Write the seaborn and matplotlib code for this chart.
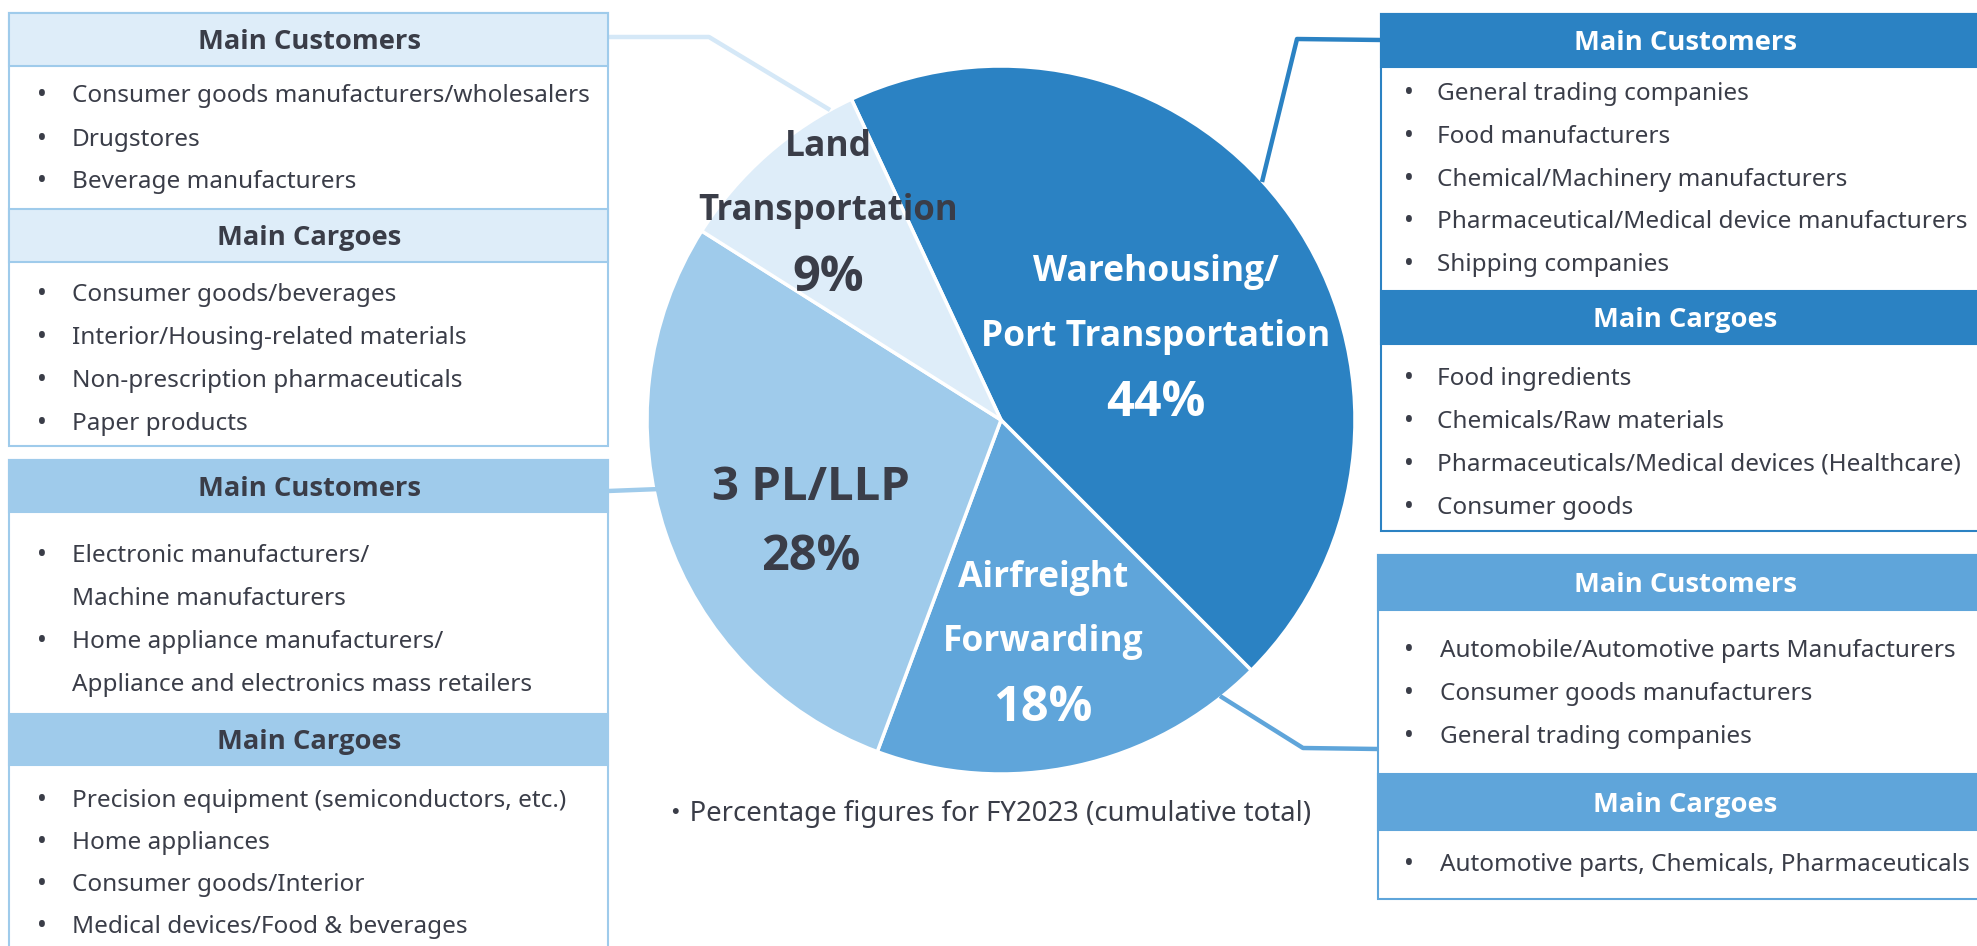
import matplotlib
matplotlib.use("Agg")
import matplotlib.pyplot as plt
from matplotlib import font_manager as fm
from matplotlib.patches import Rectangle
import seaborn as sns

# pie data
SEGMENTS = ["Warehousing/\nPort Transportation", "Airfreight\nForwarding", "3 PL/LLP", "Land\nTransportation"]
SHARES = [44, 18, 28, 9]
SEG_COLORS = ["#2B82C3", "#5FA5DA", "#9FCBEB", "#DEEDF9"]
LINE_COLORS = ["#2B82C3", "#5FA5DA", "#9FCBEB", "#D5E8F7"]

# side box texts
LAND_CUSTOMERS = ["Consumer goods manufacturers/wholesalers", "Drugstores", "Beverage manufacturers"]
LAND_CARGOES = ["Consumer goods/beverages", "Interior/Housing-related materials",
                "Non-prescription pharmaceuticals", "Paper products"]
TPL_CUSTOMERS = ["Electronic manufacturers/", "Machine manufacturers",
                 "Home appliance manufacturers/", "Appliance and electronics mass retailers"]
TPL_BULLETS = [True, False, True, False]
TPL_CARGOES = ["Precision equipment (semiconductors, etc.)", "Home appliances",
               "Consumer goods/Interior", "Medical devices/Food & beverages"]
WH_CUSTOMERS = ["General trading companies", "Food manufacturers", "Chemical/Machinery manufacturers",
                "Pharmaceutical/Medical device manufacturers", "Shipping companies"]
WH_CARGOES = ["Food ingredients", "Chemicals/Raw materials",
              "Pharmaceuticals/Medical devices (Healthcare)", "Consumer goods"]
AIR_CUSTOMERS = ["Automobile/Automotive parts Manufacturers", "Consumer goods manufacturers",
                 "General trading companies"]
AIR_CARGOES = ["Automotive parts, Chemicals, Pharmaceuticals"]

NOTE = "・Percentage figures for FY2023 (cumulative total)"

sns.set_theme(style="white")
plt.rcParams["font.family"] = ["Noto Sans", "Noto Sans CJK JP", "DejaVu Sans"]


def has_bold(name):
    for f in fm.fontManager.ttflist:
        w = f.weight
        if isinstance(w, str):
            w = fm.weight_dict.get(w, 400)
        if f.name == name and w >= 700:
            return True
    return False


BOLD_FAMILY = next(n for n in ["Noto Sans", "Open Sans", "Lato", "Roboto", "Liberation Sans", "DejaVu Sans"]
                   if has_bold(n))

DARK = "#3A3D48"
W, H = 1977, 946
DY = 2.5  # baseline nudge for va="center" text

fig = plt.figure(figsize=(W / 100, H / 100), dpi=100)
fig.patch.set_facecolor("white")

# pie axes
cx, cy, r = 1001, 420, 354
pax = fig.add_axes([(cx - r) / W, (H - cy - r) / H, 2 * r / W, 2 * r / H])
pax.pie(SHARES, colors=SEG_COLORS, startangle=115, counterclock=False,
        wedgeprops=dict(edgecolor="white", linewidth=2.5))
pax.set_xlim(-1, 1)
pax.set_ylim(-1, 1)
pax.axis("off")
pax.set_zorder(0)

# overlay in pixel coordinates, drawn above the pie
ov = fig.add_axes([0, 0, 1, 1])
ov.set_xlim(0, W)
ov.set_ylim(H, 0)
ov.axis("off")
ov.set_zorder(1)

# connector lines
connectors = [
    ([1262, 1297, 1381], [182, 39, 40]),
    ([1220, 1303, 1378], [696, 748, 749]),
    ([608, 660], [491, 489]),
    ([608, 709, 830], [37, 37, 110]),
]
for (xs, ys), c in zip(connectors, LINE_COLORS):
    ov.plot(xs, ys, color=c, lw=3.2, solid_capstyle="butt", zorder=1)

# pie labels
bold = dict(fontweight="bold", family=[BOLD_FAMILY, "DejaVu Sans"], ha="center", va="center", zorder=5)
LBL, PCT = 25.5, 35
ov.text(1156, 269 + DY, "Warehousing/", fontsize=LBL, color="white", **bold)
ov.text(1156, 334 + DY, "Port Transportation", fontsize=LBL, color="white", **bold)
ov.text(1156, 401 + DY, f"{SHARES[0]}%", fontsize=PCT, color="white", **bold)
ov.text(1043, 575 + DY, "Airfreight", fontsize=LBL, color="white", **bold)
ov.text(1043, 639 + DY, "Forwarding", fontsize=LBL, color="white", **bold)
ov.text(1043, 706 + DY, f"{SHARES[1]}%", fontsize=PCT, color="white", **bold)
ov.text(811, 485 + DY, SEGMENTS[2], fontsize=34, color=DARK, **bold)
ov.text(811, 555 + DY, f"{SHARES[2]}%", fontsize=PCT, color=DARK, **bold)
ov.text(828, 145 + DY, "Land", fontsize=LBL, color=DARK, **bold)
ov.text(828, 208 + DY, "Transportation", fontsize=25, color=DARK, **bold)
ov.text(828, 276 + DY, f"{SHARES[3]}%", fontsize=PCT, color=DARK, **bold)


def draw_box(x0, x1, bottom, sections, fill, border, head_color, head_x, dot_x, text_x):
    top = sections[0][1]
    ov.add_patch(Rectangle((x0, top), x1 - x0, bottom - top, facecolor="white",
                           edgecolor=border, lw=1.5, zorder=2))
    for title, h0, h1, first_y, step, items, bullets in sections:
        ov.add_patch(Rectangle((x0, h0), x1 - x0, h1 - h0, facecolor=fill,
                               edgecolor=border, lw=1.5, zorder=3))
        ov.text(head_x, (h0 + h1) / 2 + DY, title, fontsize=19.7, color=head_color,
                fontweight="bold", family=[BOLD_FAMILY, "DejaVu Sans"],
                ha="center", va="center", zorder=4)
        for i, item in enumerate(items):
            y = first_y + i * step + DY
            if bullets is None or bullets[i]:
                ov.text(dot_x, y, "•", fontsize=19, color=DARK, ha="center", va="center", zorder=4)
            ov.text(text_x, y, item, fontsize=17.5, color=DARK, ha="left", va="center", zorder=4)


draw_box(9, 608, 446, [
    ("Main Customers", 13, 66, 94, 43, LAND_CUSTOMERS, None),
    ("Main Cargoes", 209, 262, 292, 43, LAND_CARGOES, None),
], "#DEEDF9", "#9FCBEB", DARK, 309, 42, 72)

draw_box(9, 608, 960, [
    ("Main Customers", 460, 512, 553, 43, TPL_CUSTOMERS, TPL_BULLETS),
    ("Main Cargoes", 714, 765, 798, 42, TPL_CARGOES, None),
], "#9FCBEB", "#9FCBEB", DARK, 309, 42, 72)

draw_box(1381, 1990, 531, [
    ("Main Customers", 14, 67, 92, 42.5, WH_CUSTOMERS, None),
    ("Main Cargoes", 291, 344, 376, 43, WH_CARGOES, None),
], "#2B82C3", "#2B82C3", "white", 1685, 1409, 1437)

draw_box(1378, 1990, 899, [
    ("Main Customers", 555, 610, 648, 43, AIR_CUSTOMERS, None),
    ("Main Cargoes", 774, 830, 862, 43, AIR_CARGOES, None),
], "#5FA5DA", "#5FA5DA", "white", 1685, 1409, 1440)

ov.text(662, 811 + DY, NOTE, fontsize=19.8, color=DARK, ha="left", va="center")

fig.savefig("out.png", dpi=100, facecolor="white")
